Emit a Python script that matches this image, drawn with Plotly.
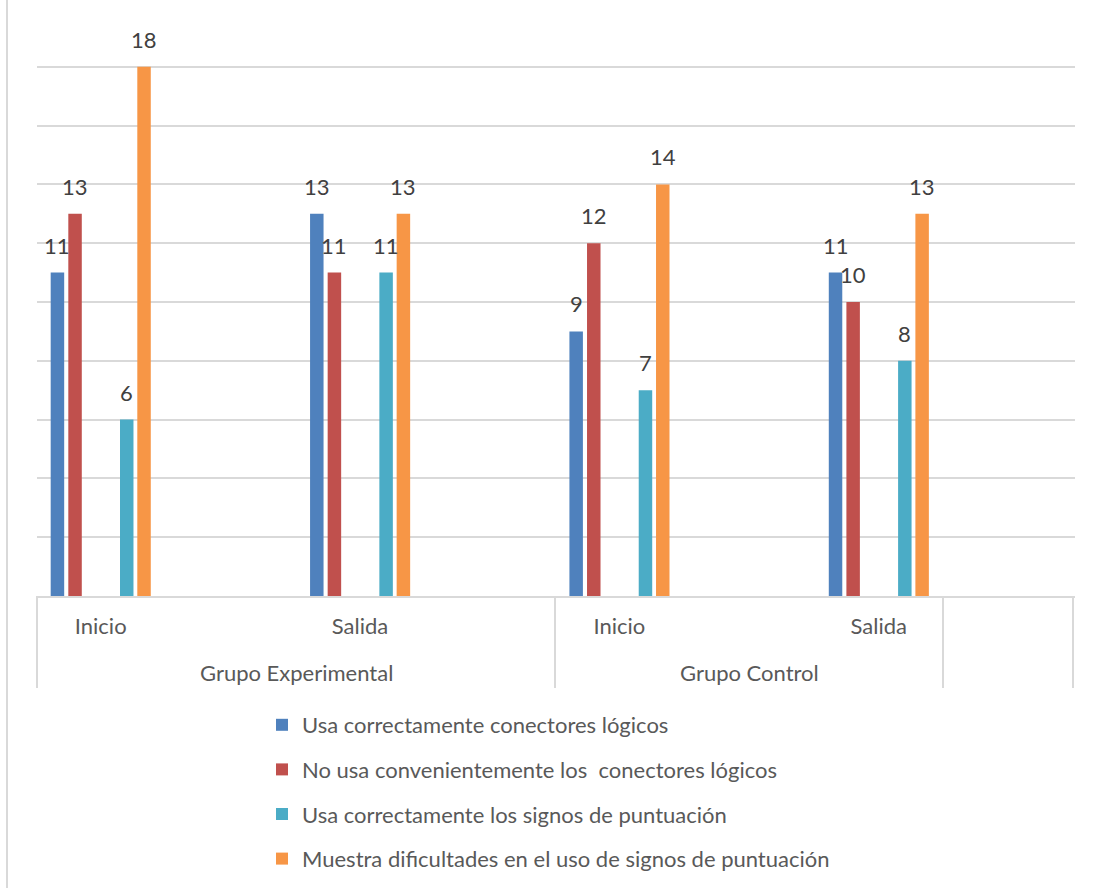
import plotly.graph_objects as go

# ---- data ----
phases = ["Inicio", "Salida", "Inicio", "Salida"]
groups = ["Grupo Experimental", "Grupo Control"]
series_names = [
    "Usa correctamente conectores lógicos",
    "No usa convenientemente los  conectores lógicos",
    "Usa correctamente los signos de puntuación",
    "Muestra dificultades en el uso de signos de puntuación",
]
usa_conectores = [11, 13, 9, 11]
no_usa_conectores = [13, 11, 12, 10]
usa_signos = [6, 11, 7, 8]
dificultad_signos = [18, 13, 14, 13]

series_values = [usa_conectores, no_usa_conectores, usa_signos, dificultad_signos]
colors = ["#4F81BD", "#C0504D", "#4BACC6", "#F79646"]
offsets = [-0.1928, -0.1249, 0.0744, 0.1411]
bar_w = 0.052

FONT = "Lato"
FS = 22
W, H = 1095, 888
ML, MR, MT, MB = 37, 20, 8, 292
plot_w = W - ML - MR
plot_h = H - MT - MB

xpos = list(range(len(phases)))

fig = go.Figure()
for name, vals, col, off in zip(series_names, series_values, colors, offsets):
    fig.add_trace(go.Bar(
        x=xpos, y=vals, name=name, marker_color=col, marker_line_width=0,
        offset=off, width=bar_w, legendgroup=name,
    ))
    for xi, v in zip(xpos, vals):
        fig.add_annotation(
            x=xi + off + bar_w / 2, y=v, xref="x", yref="y", text=str(v),
            showarrow=False, xanchor="center", yanchor="bottom", yshift=12,
            font=dict(family=FONT, size=FS, color="#404040"),
        )

def px_to_paper_x(px):
    return (px - ML) / plot_w

def px_to_paper_y(py):
    return (H - MB - py) / plot_h

grey = "#D9D9D9"
# category-axis divider lines
for px in [37, 555, 943, 1073]:
    fig.add_shape(type="line", xref="paper", yref="paper",
                  x0=px_to_paper_x(px), x1=px_to_paper_x(px),
                  y0=0, y1=px_to_paper_y(688),
                  line=dict(color=grey, width=2))
# chart border on left
fig.add_shape(type="line", xref="paper", yref="paper",
              x0=px_to_paper_x(7), x1=px_to_paper_x(7),
              y0=px_to_paper_y(0), y1=px_to_paper_y(888),
              line=dict(color=grey, width=2))

# group labels
for g, (a, b) in zip(groups, [(37, 555), (555, 943)]):
    fig.add_annotation(
        x=px_to_paper_x((a + b) / 2), y=px_to_paper_y(672), xref="paper", yref="paper",
        text=g, showarrow=False, xanchor="center", yanchor="middle",
        font=dict(family=FONT, size=FS, color="#595959"),
    )

fig.update_layout(
    width=W, height=H,
    margin=dict(l=ML, r=MR, t=MT, b=MB, autoexpand=False),
    paper_bgcolor="white", plot_bgcolor="white",
    barmode="overlay",
    font=dict(family=FONT, size=FS, color="#595959"),
    xaxis=dict(
        range=[-0.2456, 3.7565], tickvals=xpos, ticktext=phases,
        showgrid=False, zeroline=False, showline=True, linecolor=grey, linewidth=2,
        ticks="", ticklabelstandoff=10,
        tickfont=dict(family=FONT, size=FS, color="#595959"),
    ),
    yaxis=dict(
        range=[0, 20], dtick=2, showticklabels=False, showgrid=True,
        gridcolor=grey, gridwidth=2, zeroline=False, showline=False, ticks="",
    ),
    showlegend=True,
    legend=dict(
        x=px_to_paper_x(262), y=px_to_paper_y(704), xanchor="left", yanchor="top",
        orientation="v", tracegroupgap=13, traceorder="grouped",
        font=dict(family=FONT, size=FS, color="#595959"),
        bgcolor="rgba(0,0,0,0)",
    ),
)

fig.write_html("out.html")
